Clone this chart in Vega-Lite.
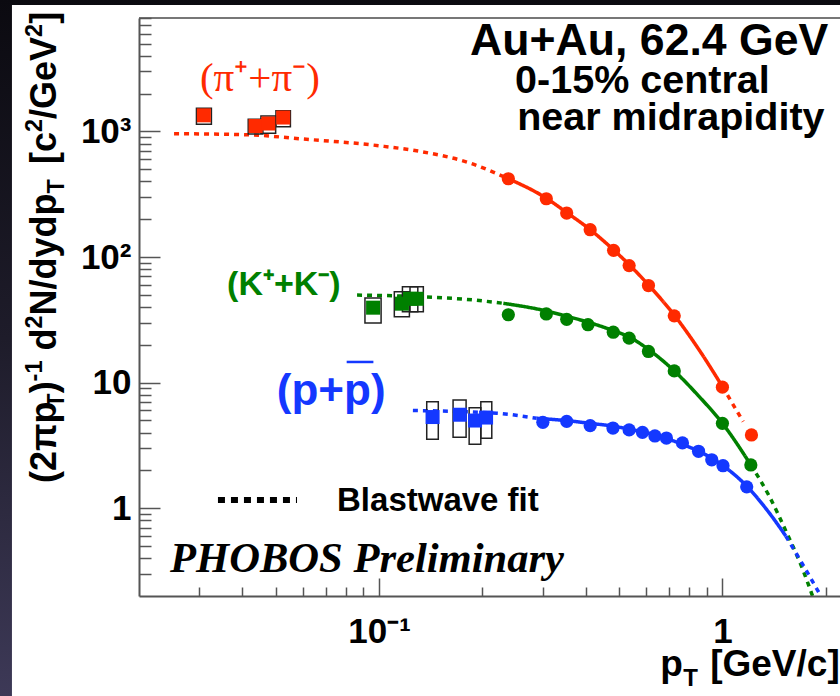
{
  "$schema": "https://vega.github.io/schema/vega-lite/v6.json",
  "width": 701,
  "height": 578,
  "autosize": {"type": "none"},
  "padding": {"left": 139, "top": 18, "right": 0, "bottom": 100},
  "background": "#1c1a26",
  "config": {"view": {"stroke": null}},
  "datasets": {
    "fits": [
      {"species": "pion", "range": "below", "pT": 0.0253, "yield": 959},
      {"species": "pion", "range": "below", "pT": 0.0418, "yield": 940},
      {"species": "pion", "range": "below", "pT": 0.0585, "yield": 875},
      {"species": "pion", "range": "below", "pT": 0.1, "yield": 769},
      {"species": "pion", "range": "below", "pT": 0.1317, "yield": 693},
      {"species": "pion", "range": "below", "pT": 0.183, "yield": 563},
      {"species": "pion", "range": "below", "pT": 0.238, "yield": 420},
      {"species": "pion", "range": "fitted", "pT": 0.238, "yield": 420},
      {"species": "pion", "range": "fitted", "pT": 0.307, "yield": 294},
      {"species": "pion", "range": "fitted", "pT": 0.352, "yield": 226},
      {"species": "pion", "range": "fitted", "pT": 0.41, "yield": 167},
      {"species": "pion", "range": "fitted", "pT": 0.482, "yield": 114},
      {"species": "pion", "range": "fitted", "pT": 0.535, "yield": 87},
      {"species": "pion", "range": "fitted", "pT": 0.609, "yield": 60},
      {"species": "pion", "range": "fitted", "pT": 0.724, "yield": 34.5},
      {"species": "pion", "range": "fitted", "pT": 0.85, "yield": 18.7},
      {"species": "pion", "range": "fitted", "pT": 1.0, "yield": 9.3},
      {"species": "pion", "range": "above", "pT": 1.0, "yield": 9.3},
      {"species": "pion", "range": "above", "pT": 1.149, "yield": 4.9},
      {"species": "kaon", "range": "below", "pT": 0.0863, "yield": 49.8},
      {"species": "kaon", "range": "below", "pT": 0.1317, "yield": 48.3},
      {"species": "kaon", "range": "below", "pT": 0.1883, "yield": 45.5},
      {"species": "kaon", "range": "below", "pT": 0.2302, "yield": 42.8},
      {"species": "kaon", "range": "fitted", "pT": 0.2302, "yield": 42.8},
      {"species": "kaon", "range": "fitted", "pT": 0.307, "yield": 37.2},
      {"species": "kaon", "range": "fitted", "pT": 0.35, "yield": 33.9},
      {"species": "kaon", "range": "fitted", "pT": 0.406, "yield": 30.3},
      {"species": "kaon", "range": "fitted", "pT": 0.48, "yield": 26.0},
      {"species": "kaon", "range": "fitted", "pT": 0.535, "yield": 23.1},
      {"species": "kaon", "range": "fitted", "pT": 0.61, "yield": 18.3},
      {"species": "kaon", "range": "fitted", "pT": 0.724, "yield": 12.4},
      {"species": "kaon", "range": "fitted", "pT": 0.85, "yield": 7.9},
      {"species": "kaon", "range": "fitted", "pT": 1.0, "yield": 4.74},
      {"species": "kaon", "range": "fitted", "pT": 1.21, "yield": 2.21},
      {"species": "kaon", "range": "above", "pT": 1.21, "yield": 2.21},
      {"species": "kaon", "range": "above", "pT": 1.368, "yield": 1.25},
      {"species": "kaon", "range": "above", "pT": 1.53, "yield": 0.66},
      {"species": "kaon", "range": "above", "pT": 1.71, "yield": 0.33},
      {"species": "kaon", "range": "above", "pT": 1.83, "yield": 0.2},
      {"species": "proton", "range": "below", "pT": 0.1255, "yield": 6.0},
      {"species": "proton", "range": "below", "pT": 0.2202, "yield": 5.7},
      {"species": "proton", "range": "below", "pT": 0.2878, "yield": 5.2},
      {"species": "proton", "range": "fitted", "pT": 0.2878, "yield": 5.2},
      {"species": "proton", "range": "fitted", "pT": 0.352, "yield": 4.98},
      {"species": "proton", "range": "fitted", "pT": 0.41, "yield": 4.75},
      {"species": "proton", "range": "fitted", "pT": 0.48, "yield": 4.5},
      {"species": "proton", "range": "fitted", "pT": 0.535, "yield": 4.27},
      {"species": "proton", "range": "fitted", "pT": 0.61, "yield": 3.95},
      {"species": "proton", "range": "fitted", "pT": 0.69, "yield": 3.58},
      {"species": "proton", "range": "fitted", "pT": 0.77, "yield": 3.2},
      {"species": "proton", "range": "fitted", "pT": 0.852, "yield": 2.85},
      {"species": "proton", "range": "fitted", "pT": 1.0, "yield": 2.2},
      {"species": "proton", "range": "fitted", "pT": 1.177, "yield": 1.5},
      {"species": "proton", "range": "fitted", "pT": 1.368, "yield": 0.92},
      {"species": "proton", "range": "fitted", "pT": 1.53, "yield": 0.6},
      {"species": "proton", "range": "above", "pT": 1.53, "yield": 0.6},
      {"species": "proton", "range": "above", "pT": 1.71, "yield": 0.36},
      {"species": "proton", "range": "above", "pT": 1.935, "yield": 0.2}
    ],
    "spectrometer": [
      {"species": "pion", "pT": 0.238, "yield": 420},
      {"species": "pion", "pT": 0.307, "yield": 291},
      {"species": "pion", "pT": 0.352, "yield": 224},
      {"species": "pion", "pT": 0.412, "yield": 165},
      {"species": "pion", "pT": 0.482, "yield": 113},
      {"species": "pion", "pT": 0.535, "yield": 85.5},
      {"species": "pion", "pT": 0.609, "yield": 59.3},
      {"species": "pion", "pT": 0.724, "yield": 34},
      {"species": "pion", "pT": 1.0, "yield": 9.2},
      {"species": "pion", "pT": 1.215, "yield": 3.83},
      {"species": "kaon", "pT": 0.238, "yield": 34.7},
      {"species": "kaon", "pT": 0.307, "yield": 35.2},
      {"species": "kaon", "pT": 0.352, "yield": 31.9},
      {"species": "kaon", "pT": 0.406, "yield": 28.9},
      {"species": "kaon", "pT": 0.481, "yield": 25.2},
      {"species": "kaon", "pT": 0.535, "yield": 22.6},
      {"species": "kaon", "pT": 0.609, "yield": 17.7},
      {"species": "kaon", "pT": 0.724, "yield": 12.4},
      {"species": "kaon", "pT": 1.0, "yield": 4.74},
      {"species": "kaon", "pT": 1.21, "yield": 2.21},
      {"species": "proton", "pT": 0.3, "yield": 4.83},
      {"species": "proton", "pT": 0.352, "yield": 4.92},
      {"species": "proton", "pT": 0.412, "yield": 4.54},
      {"species": "proton", "pT": 0.48, "yield": 4.35},
      {"species": "proton", "pT": 0.535, "yield": 4.2},
      {"species": "proton", "pT": 0.585, "yield": 4.02},
      {"species": "proton", "pT": 0.636, "yield": 3.76},
      {"species": "proton", "pT": 0.687, "yield": 3.62},
      {"species": "proton", "pT": 0.765, "yield": 3.31},
      {"species": "proton", "pT": 0.852, "yield": 2.84},
      {"species": "proton", "pT": 0.931, "yield": 2.43},
      {"species": "proton", "pT": 1.004, "yield": 2.18},
      {"species": "proton", "pT": 1.177, "yield": 1.48}
    ],
    "stopping": [
      {"species": "pion", "pT": 0.0309, "yield": 1343, "pT_lo": 0.0294, "pT_hi": 0.0325, "y_lo": 1139, "y_hi": 1528},
      {"species": "pion", "pT": 0.0437, "yield": 1104, "pT_lo": 0.0416, "pT_hi": 0.0459, "y_lo": 954, "y_hi": 1249},
      {"species": "pion", "pT": 0.0476, "yield": 1156, "pT_lo": 0.0453, "pT_hi": 0.05, "y_lo": 966, "y_hi": 1327},
      {"species": "pion", "pT": 0.0526, "yield": 1290, "pT_lo": 0.0501, "pT_hi": 0.0552, "y_lo": 1090, "y_hi": 1462},
      {"species": "kaon", "pT": 0.0961, "yield": 39.5, "pT_lo": 0.091, "pT_hi": 0.1014, "y_lo": 29.8, "y_hi": 47.2},
      {"species": "kaon", "pT": 0.1166, "yield": 42.5, "pT_lo": 0.1108, "pT_hi": 0.1226, "y_lo": 33.5, "y_hi": 52.9},
      {"species": "kaon", "pT": 0.1231, "yield": 46.5, "pT_lo": 0.117, "pT_hi": 0.1297, "y_lo": 36.7, "y_hi": 58.0},
      {"species": "kaon", "pT": 0.1288, "yield": 46.5, "pT_lo": 0.1231, "pT_hi": 0.1346, "y_lo": 36.7, "y_hi": 58.0},
      {"species": "proton", "pT": 0.1432, "yield": 5.32, "pT_lo": 0.1377, "pT_hi": 0.1488, "y_lo": 3.54, "y_hi": 7.05},
      {"species": "proton", "pT": 0.1719, "yield": 5.55, "pT_lo": 0.1643, "pT_hi": 0.1793, "y_lo": 3.67, "y_hi": 7.27},
      {"species": "proton", "pT": 0.1904, "yield": 4.99, "pT_lo": 0.183, "pT_hi": 0.1979, "y_lo": 3.23, "y_hi": 6.31},
      {"species": "proton", "pT": 0.205, "yield": 5.27, "pT_lo": 0.1979, "pT_hi": 0.213, "y_lo": 3.6, "y_hi": 7.05}
    ]
  },
  "layer": [
    {
      "data": {"values": [{}]},
      "mark": {"type": "rect", "fill": {"gradient": "linear", "x1": 0, "y1": 0, "x2": 0, "y2": 1, "stops": [{"offset": 0.13, "color": "#0b0a10"}, {"offset": 0.5, "color": "#1e1c2a"}, {"offset": 0.89, "color": "#3d3957"}]}},
      "encoding": {
        "x": {"datum": 0.005, "type": "quantitative", "scale": {"type": "log", "domain": [0.02, 2.2], "nice": false}},
        "x2": {"datum": 10},
        "y": {"datum": 100000, "type": "quantitative", "scale": {"type": "log", "domain": [0.2, 8000], "nice": false}},
        "y2": {"datum": 0.005}
      }
    },
    {
      "data": {"values": [{}]},
      "mark": {"type": "rect", "fill": "#ffffff"},
      "encoding": {
        "x": {"datum": 0.008532, "type": "quantitative", "scale": {"type": "log", "domain": [0.02, 2.2], "nice": false}},
        "x2": {"datum": 10},
        "y": {"datum": 10150, "type": "quantitative", "scale": {"type": "log", "domain": [0.2, 8000], "nice": false}},
        "y2": {"datum": 0.005}
      }
    },
    {
      "data": {"name": "fits"},
      "mark": {"type": "line", "strokeWidth": 3.5, "interpolate": "monotone"},
      "encoding": {
        "x": {"field": "pT", "type": "quantitative", "scale": {"type": "log", "domain": [0.02, 2.2], "nice": false}},
        "y": {"field": "yield", "type": "quantitative", "scale": {"type": "log", "domain": [0.2, 8000], "nice": false}},
        "color": {"field": "species", "type": "nominal", "scale": {"domain": ["pion", "kaon", "proton"], "range": ["#ff2a00", "#008000", "#1438ff"]}, "legend": null},
        "strokeDash": {"field": "range", "type": "nominal", "scale": {"domain": ["below", "fitted", "above"], "range": [[5, 5], [1, 0], [5, 5]]}, "legend": null},
        "detail": {"field": "range", "type": "nominal"},
        "order": {"field": "pT", "type": "quantitative"}
      }
    },
    {
      "data": {"values": [{}]},
      "mark": {"type": "rule", "color": "#000000", "strokeWidth": 6, "strokeDash": [7, 6]},
      "encoding": {
        "x": {"datum": 0.03396, "type": "quantitative", "scale": {"type": "log", "domain": [0.02, 2.2], "nice": false}},
        "x2": {"datum": 0.0577},
        "y": {"datum": 1.162, "type": "quantitative", "scale": {"type": "log", "domain": [0.2, 8000], "nice": false}}
      }
    },
    {
      "data": {"name": "stopping"},
      "mark": {"type": "rect", "filled": false, "color": "#222222", "strokeWidth": 1.5},
      "encoding": {
        "x": {"field": "pT_lo", "type": "quantitative", "scale": {"type": "log", "domain": [0.02, 2.2], "nice": false}},
        "x2": {"field": "pT_hi"},
        "y": {"field": "y_hi", "type": "quantitative", "scale": {"type": "log", "domain": [0.2, 8000], "nice": false}},
        "y2": {"field": "y_lo"}
      }
    },
    {
      "data": {"name": "stopping"},
      "mark": {"type": "square", "size": 196, "opacity": 1},
      "encoding": {
        "x": {"field": "pT", "type": "quantitative", "scale": {"type": "log", "domain": [0.02, 2.2], "nice": false}},
        "y": {"field": "yield", "type": "quantitative", "scale": {"type": "log", "domain": [0.2, 8000], "nice": false}},
        "color": {"field": "species", "type": "nominal", "scale": {"domain": ["pion", "kaon", "proton"], "range": ["#ff2a00", "#008000", "#1438ff"]}, "legend": null}
      }
    },
    {
      "data": {"name": "spectrometer"},
      "mark": {"type": "circle", "size": 175, "opacity": 1},
      "encoding": {
        "x": {
          "field": "pT", "type": "quantitative",
          "scale": {"type": "log", "domain": [0.02, 2.2], "nice": false},
          "axis": {
            "values": [0.03, 0.04, 0.05, 0.06, 0.07, 0.08, 0.09, 0.1, 0.2, 0.3, 0.4, 0.5, 0.6, 0.7, 0.8, 0.9, 1, 2],
            "labelExpr": "datum.value == 0.1 ? '10⁻¹' : datum.value == 1 ? '1' : ''",
            "title": null, "grid": false, "zindex": 1,
            "domainColor": "#555555", "domainWidth": 2,
            "tickColor": "#555555", "tickWidth": 1.5,
            "tickSize": {"condition": {"test": "indexof([0.1, 1], datum.value) >= 0", "value": -18}, "value": -9},
            "labelFont": "Liberation Sans", "labelFontWeight": "bold", "labelFontSize": 35, "labelColor": "#000000",
            "labelPadding": 36, "labelBaseline": "top", "labelAlign": "center", "labelFlush": false, "labelOverlap": false
          }
        },
        "y": {
          "field": "yield", "type": "quantitative",
          "scale": {"type": "log", "domain": [0.2, 8000], "nice": false},
          "axis": {
            "values": [0.3, 0.4, 0.5, 0.6, 0.7, 0.8, 0.9, 1, 2, 3, 4, 5, 6, 7, 8, 9, 10, 20, 30, 40, 50, 60, 70, 80, 90, 100, 200, 300, 400, 500, 600, 700, 800, 900, 1000, 2000, 3000, 4000, 5000, 6000, 7000, 8000],
            "labelExpr": "datum.value == 1000 ? '10³' : datum.value == 100 ? '10²' : datum.value == 10 ? '10' : datum.value == 1 ? '1' : ''",
            "title": null, "grid": false, "zindex": 1,
            "domainColor": "#555555", "domainWidth": 2,
            "tickColor": "#555555", "tickWidth": 1.5,
            "tickSize": {"condition": {"test": "indexof([1, 10, 100, 1000], datum.value) >= 0", "value": -21}, "value": -12},
            "labelFont": "Liberation Sans", "labelFontWeight": "bold", "labelFontSize": 35, "labelColor": "#000000",
            "labelPadding": 29, "labelBaseline": "middle", "labelAlign": "right", "labelFlush": false, "labelOverlap": false
          }
        },
        "color": {"field": "species", "type": "nominal", "scale": {"domain": ["pion", "kaon", "proton"], "range": ["#ff2a00", "#008000", "#1438ff"]}, "legend": null}
      }
    },
    {
      "data": {"values": [{}]},
      "mark": {"type": "rule", "color": "#777777", "strokeWidth": 2},
      "encoding": {
        "x": {"datum": 0.02, "type": "quantitative", "scale": {"type": "log", "domain": [0.02, 2.2], "nice": false}},
        "x2": {"datum": 2.2},
        "y": {"datum": 8000, "type": "quantitative", "scale": {"type": "log", "domain": [0.2, 8000], "nice": false}}
      }
    },
    {
      "data": {"values": [{}]},
      "mark": {"type": "rule", "color": "#1438ff", "strokeWidth": 2.5},
      "encoding": {
        "x": {"datum": 0.0805, "type": "quantitative", "scale": {"type": "log", "domain": [0.02, 2.2], "nice": false}},
        "x2": {"datum": 0.0963},
        "y": {"datum": 14.6, "type": "quantitative", "scale": {"type": "log", "domain": [0.2, 8000], "nice": false}}
      }
    },
    {
      "data": {"values": [{"text": "(π⁺+π⁻)", "pT": 0.0301, "yield": 2098}]},
      "mark": {"type": "text", "font": "Liberation Serif", "fontSize": 41, "align": "left", "baseline": "alphabetic", "color": "#ff2a00"},
      "encoding": {
        "x": {"field": "pT", "type": "quantitative", "scale": {"type": "log", "domain": [0.02, 2.2], "nice": false}},
        "y": {"field": "yield", "type": "quantitative", "scale": {"type": "log", "domain": [0.2, 8000], "nice": false}},
        "text": {"field": "text"}
      }
    },
    {
      "data": {"values": [{"text": "(K⁺+K⁻)", "pT": 0.0361, "yield": 49.8}]},
      "mark": {"type": "text", "font": "Liberation Sans", "fontWeight": "bold", "fontSize": 34, "align": "left", "baseline": "alphabetic", "color": "#008000"},
      "encoding": {
        "x": {"field": "pT", "type": "quantitative", "scale": {"type": "log", "domain": [0.02, 2.2], "nice": false}},
        "y": {"field": "yield", "type": "quantitative", "scale": {"type": "log", "domain": [0.2, 8000], "nice": false}},
        "text": {"field": "text"}
      }
    },
    {
      "data": {"values": [{"text": "(p+p)", "pT": 0.0504, "yield": 6.63}]},
      "mark": {"type": "text", "font": "Liberation Sans", "fontWeight": "bold", "fontSize": 44, "align": "left", "baseline": "alphabetic", "color": "#1438ff"},
      "encoding": {
        "x": {"field": "pT", "type": "quantitative", "scale": {"type": "log", "domain": [0.02, 2.2], "nice": false}},
        "y": {"field": "yield", "type": "quantitative", "scale": {"type": "log", "domain": [0.2, 8000], "nice": false}},
        "text": {"field": "text"}
      }
    },
    {
      "data": {"values": [{"text": "Au+Au, 62.4 GeV", "pT": 0.1842, "yield": 4058}]},
      "mark": {"type": "text", "font": "Liberation Sans", "fontWeight": "bold", "fontSize": 44.6, "align": "left", "baseline": "alphabetic", "color": "#000000"},
      "encoding": {
        "x": {"field": "pT", "type": "quantitative", "scale": {"type": "log", "domain": [0.02, 2.2], "nice": false}},
        "y": {"field": "yield", "type": "quantitative", "scale": {"type": "log", "domain": [0.2, 8000], "nice": false}},
        "text": {"field": "text"}
      }
    },
    {
      "data": {"values": [{"text": "0-15% central", "pT": 0.249, "yield": 2011}, {"text": "near midrapidity", "pT": 0.2526, "yield": 1026}]},
      "mark": {"type": "text", "font": "Liberation Sans", "fontWeight": "bold", "fontSize": 39.5, "align": "left", "baseline": "alphabetic", "color": "#000000"},
      "encoding": {
        "x": {"field": "pT", "type": "quantitative", "scale": {"type": "log", "domain": [0.02, 2.2], "nice": false}},
        "y": {"field": "yield", "type": "quantitative", "scale": {"type": "log", "domain": [0.2, 8000], "nice": false}},
        "text": {"field": "text"}
      }
    },
    {
      "data": {"values": [{"text": "Blastwave fit", "pT": 0.07546, "yield": 0.95}]},
      "mark": {"type": "text", "font": "Liberation Sans", "fontWeight": "bold", "fontSize": 33, "align": "left", "baseline": "alphabetic", "color": "#000000"},
      "encoding": {
        "x": {"field": "pT", "type": "quantitative", "scale": {"type": "log", "domain": [0.02, 2.2], "nice": false}},
        "y": {"field": "yield", "type": "quantitative", "scale": {"type": "log", "domain": [0.2, 8000], "nice": false}},
        "text": {"field": "text"}
      }
    },
    {
      "data": {"values": [{"text": "PHOBOS Preliminary", "pT": 0.02462, "yield": 0.312}]},
      "mark": {"type": "text", "font": "Liberation Serif", "fontWeight": "bold", "fontStyle": "italic", "fontSize": 42.6, "align": "left", "baseline": "alphabetic", "color": "#000000"},
      "encoding": {
        "x": {"field": "pT", "type": "quantitative", "scale": {"type": "log", "domain": [0.02, 2.2], "nice": false}},
        "y": {"field": "yield", "type": "quantitative", "scale": {"type": "log", "domain": [0.2, 8000], "nice": false}},
        "text": {"field": "text"}
      }
    },
    {
      "data": {"values": [{"text": "p", "pT": 0.6586, "yield": 0.046}, {"text": "[GeV/c]", "pT": 0.9212, "yield": 0.046}]},
      "mark": {"type": "text", "font": "Liberation Sans", "fontWeight": "bold", "fontSize": 37, "align": "left", "baseline": "alphabetic", "color": "#000000"},
      "encoding": {
        "x": {"field": "pT", "type": "quantitative", "scale": {"type": "log", "domain": [0.02, 2.2], "nice": false}},
        "y": {"field": "yield", "type": "quantitative", "scale": {"type": "log", "domain": [0.2, 8000], "nice": false}},
        "text": {"field": "text"}
      }
    },
    {
      "data": {"values": [{"text": "T", "pT": 0.7686, "yield": 0.0385}]},
      "mark": {"type": "text", "font": "Liberation Sans", "fontWeight": "bold", "fontSize": 24, "align": "left", "baseline": "alphabetic", "color": "#000000"},
      "encoding": {
        "x": {"field": "pT", "type": "quantitative", "scale": {"type": "log", "domain": [0.02, 2.2], "nice": false}},
        "y": {"field": "yield", "type": "quantitative", "scale": {"type": "log", "domain": [0.2, 8000], "nice": false}},
        "text": {"field": "text"}
      }
    },
    {
      "data": {"values": [
        {"text": "(2πp", "pT": 0.011462, "yield": 1.587},
        {"text": ")", "pT": 0.011462, "yield": 8.21},
        {"text": "d", "pT": 0.011462, "yield": 18.01},
        {"text": "N/dydp", "pT": 0.011462, "yield": 34.29},
        {"text": "[c", "pT": 0.011462, "yield": 550},
        {"text": "/GeV", "pT": 0.011462, "yield": 1258},
        {"text": "]", "pT": 0.011462, "yield": 7190}
      ]},
      "mark": {"type": "text", "font": "Liberation Sans", "fontWeight": "bold", "fontSize": 36, "angle": 270, "align": "left", "baseline": "alphabetic", "color": "#000000"},
      "encoding": {
        "x": {"field": "pT", "type": "quantitative", "scale": {"type": "log", "domain": [0.02, 2.2], "nice": false}},
        "y": {"field": "yield", "type": "quantitative", "scale": {"type": "log", "domain": [0.2, 8000], "nice": false}},
        "text": {"field": "text"}
      }
    },
    {
      "data": {"values": [
        {"text": "T", "pT": 0.012094, "yield": 6.3},
        {"text": "-1", "pT": 0.010436, "yield": 10.22},
        {"text": "2", "pT": 0.010436, "yield": 26.96},
        {"text": "T", "pT": 0.012094, "yield": 321},
        {"text": "2", "pT": 0.010436, "yield": 989},
        {"text": "2", "pT": 0.010436, "yield": 5656}
      ]},
      "mark": {"type": "text", "font": "Liberation Sans", "fontWeight": "bold", "fontSize": 23.5, "angle": 270, "align": "left", "baseline": "alphabetic", "color": "#000000"},
      "encoding": {
        "x": {"field": "pT", "type": "quantitative", "scale": {"type": "log", "domain": [0.02, 2.2], "nice": false}},
        "y": {"field": "yield", "type": "quantitative", "scale": {"type": "log", "domain": [0.2, 8000], "nice": false}},
        "text": {"field": "text"}
      }
    }
  ]
}
